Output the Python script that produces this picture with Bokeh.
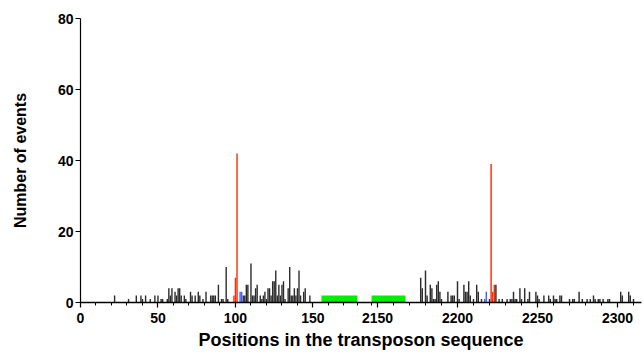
from bokeh.plotting import figure
from bokeh.models import Range1d, FixedTicker
from bokeh.embed import file_html
from bokeh.resources import INLINE

# ---- data: left part of the sequence (positions 0-180) ----
left_pos = [22, 31, 36, 39, 40, 42, 45, 48, 50, 52, 53, 56, 57, 58, 59, 61, 62, 63, 64, 65,
            67, 68, 71, 72, 74, 76, 77, 79, 81, 84, 85, 86, 87, 89, 91, 92, 94, 95,
            105, 106, 107, 108, 110, 111, 112, 113, 114, 116, 117, 118, 119, 120, 121, 122,
            123, 124, 125, 126, 127, 128, 129, 130, 131, 132, 134, 135, 136, 137, 138, 139,
            140, 141, 142, 144, 145, 148]
left_cnt = [2, 1, 2, 2, 1, 2, 1, 2, 2, 1, 1, 1, 4, 2, 4, 3, 2, 4, 4, 2,
            2, 1, 3, 2, 2, 3, 2, 1, 3, 2, 2, 2, 2, 5, 1, 1, 10, 1,
            2, 2, 5, 5, 11, 2, 2, 4, 5, 2, 1, 2, 3, 1, 4, 4,
            2, 6, 6, 9, 2, 5, 2, 5, 6, 1, 4, 10, 2, 2, 4, 2,
            4, 9, 2, 3, 4, 2]
left_red_pos = [99, 100, 101]
left_red_cnt = [2, 7, 42]
left_blue_pos = [103, 104]
left_blue_cnt = [3, 3]

# ---- data: right part of the sequence (positions 2146-2315) ----
right_pos = [2177, 2178, 2180, 2181, 2183, 2184, 2185, 2186, 2187, 2188, 2189, 2190,
             2194, 2196, 2197, 2198, 2200, 2201, 2204, 2205, 2206, 2207, 2208, 2210,
             2212, 2213, 2215, 2220, 2224, 2226, 2228, 2231, 2233, 2234, 2235, 2236, 2237,
             2239, 2240, 2242, 2244, 2245, 2249, 2250, 2251, 2254, 2257, 2258, 2260, 2261,
             2262, 2264, 2265, 2270, 2272, 2273, 2276, 2278, 2281, 2283, 2285, 2286, 2288,
             2289, 2291, 2294, 2295, 2302, 2303, 2307, 2308, 2310]
right_cnt = [7, 4, 9, 2, 5, 4, 1, 1, 5, 6, 3, 1,
             3, 2, 2, 2, 6, 1, 5, 3, 3, 6, 2, 1,
             5, 3, 1, 1, 5, 1, 1, 1, 1, 1, 3, 1, 1,
             4, 1, 4, 1, 3, 3, 2, 1, 2, 2, 1, 2, 1,
             1, 2, 2, 1, 1, 1, 3, 1, 1, 1, 2, 1, 1,
             1, 1, 1, 1, 3, 2, 3, 2, 1]
right_red_pos = [2221, 2222, 2223]
right_red_cnt = [39, 3, 5]
right_blue_pos = [2217, 2218]
right_blue_cnt = [1, 3]

# green marked regions
green_left = [155.5, 178.7]
green_right = [2146.3, 2167.5]
green_height = 2

# axis ticks
left_major = [0, 50, 100, 150]
right_major = [2150, 2200, 2250, 2300]
y_ticks = [0, 20, 40, 60, 80]

# ---- broken axis geometry ----
X_END = 362.0             # left-part range end (default range)
R_START, R_END = 1964.375, 2315.0   # right-part range
LEFT_SEG_END = 178.7
RIGHT_SEG_START = 2146.3

def to_u(v):
    return (v - R_START) / (R_END - R_START) * X_END

p = figure(width=643, height=356, output_backend="svg", toolbar_location=None,
           x_range=Range1d(0, X_END), y_range=Range1d(0, 80),
           min_border_left=80, min_border_right=2, min_border_top=18, min_border_bottom=54)
p.extra_x_ranges = {"r": Range1d(R_START, R_END)}

p.outline_line_color = None
p.xgrid.visible = False
p.ygrid.visible = False
p.background_fill_color = "white"
p.border_fill_color = "white"

bar_col = "#2b2b2b"
red = "#ff2a00"
blue = "#3f5fff"
green = "#00ee00"
bw = 0.9

# green regions
p.quad(left=[green_left[0]], right=[green_left[1]], bottom=[0], top=[green_height],
       fill_color=green, line_color=None)
p.quad(left=[green_right[0]], right=[green_right[1]], bottom=[0], top=[green_height],
       fill_color=green, line_color=None, x_range_name="r")

# left bars
p.vbar(x=left_pos, top=left_cnt, width=bw, fill_color=bar_col, line_color=None)
p.vbar(x=left_red_pos, top=left_red_cnt, width=bw, fill_color=red, line_color=None)
p.vbar(x=left_blue_pos, top=left_blue_cnt, width=bw, fill_color=blue, line_color=None)
# right bars
p.vbar(x=right_pos, top=right_cnt, width=bw, fill_color=bar_col, line_color=None, x_range_name="r")
p.vbar(x=right_red_pos, top=right_red_cnt, width=bw, fill_color=red, line_color=None, x_range_name="r")
p.vbar(x=right_blue_pos, top=right_blue_cnt, width=bw, fill_color=blue, line_color=None, x_range_name="r")

# x axis ticks
major_u = [float(t) for t in left_major] + [to_u(t) for t in right_major]
minor_u = [float(t) for t in range(10, 180, 10) if t not in left_major]
minor_u += [to_u(t) for t in range(2150, 2315, 10) if t not in right_major]
minor_u += [LEFT_SEG_END, to_u(RIGHT_SEG_START)]
overrides = {float(t): str(t) for t in left_major}
overrides.update({to_u(t): str(t) for t in right_major})

font = "Liberation Sans"
xa = p.xaxis[0]
xa.ticker = FixedTicker(ticks=major_u, minor_ticks=minor_u)
xa.major_label_overrides = overrides
xa.axis_label = "Positions in the transposon sequence"
xa.axis_label_text_font = font
xa.axis_label_text_font_style = "bold"
xa.axis_label_text_font_size = "18px"
xa.axis_label_text_color = "black"
xa.axis_label_standoff = 4
xa.major_label_text_font = font
xa.major_label_text_font_style = "bold"
xa.major_label_text_font_size = "14px"
xa.major_label_text_color = "black"
xa.major_label_standoff = 5
xa.axis_line_width = 1.5
xa.axis_line_color = "black"
xa.major_tick_line_color = "black"
xa.minor_tick_line_color = "black"
xa.major_tick_out = 5
xa.major_tick_in = 0
xa.minor_tick_out = 3
xa.minor_tick_in = 0
xa.major_tick_line_width = 1.2
xa.minor_tick_line_width = 1

ya = p.yaxis[0]
ya.ticker = FixedTicker(ticks=y_ticks, minor_ticks=[])
ya.axis_label = "Number of events"
ya.axis_label_text_font = font
ya.axis_label_text_font_style = "bold"
ya.axis_label_text_font_size = "16px"
ya.axis_label_text_color = "black"
ya.axis_label_standoff = 26
ya.major_label_text_font = font
ya.major_label_text_font_style = "bold"
ya.major_label_text_font_size = "14px"
ya.major_label_text_color = "black"
ya.major_label_standoff = 2
ya.axis_line_width = 1.2
ya.axis_line_color = "black"
ya.major_tick_line_color = "black"
ya.major_tick_out = 5
ya.major_tick_in = 0
ya.major_tick_line_width = 1.2

open("out.html", "w").write(file_html(p, INLINE))
